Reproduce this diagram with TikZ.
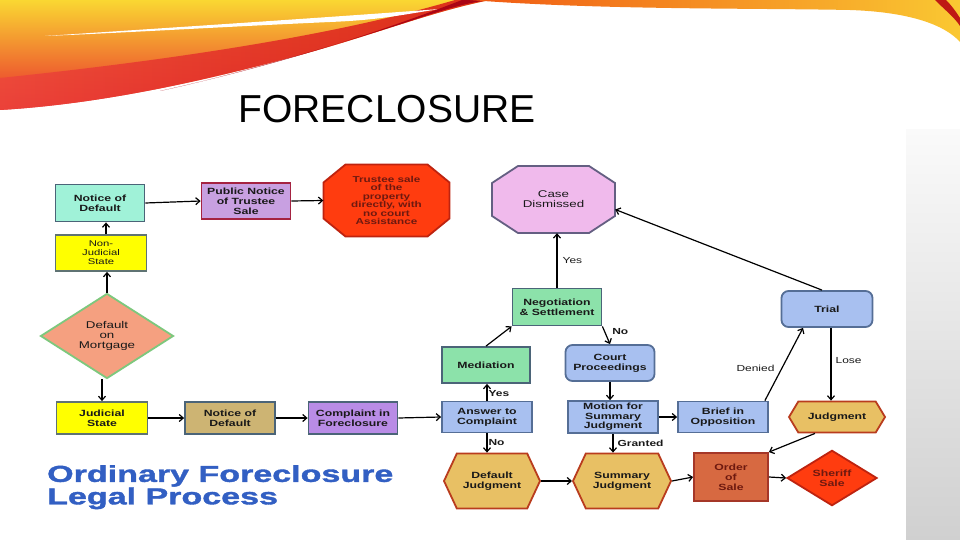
\documentclass[tikz,border=0pt]{standalone}
\usepackage{fontspec}
\setmainfont{Liberation Sans}
\newfontfamily\dfont[FakeStretch=1.36]{Liberation Sans}
\newfontfamily\logofont[FakeStretch=1.48,FakeBold=1.6]{Liberation Sans}
\usetikzlibrary{shapes.geometric,shapes.misc,shapes.symbols,arrows.meta}
\definecolor{aqua}{RGB}{160,242,216}
\definecolor{slate}{RGB}{75,100,120}
\definecolor{lav}{RGB}{200,160,225}
\definecolor{maroon}{RGB}{165,35,65}
\definecolor{redo}{RGB}{255,60,15}
\definecolor{redb}{RGB}{190,35,15}
\definecolor{yel}{RGB}{255,255,0}
\definecolor{ybord}{RGB}{95,115,115}
\definecolor{salmon}{RGB}{245,160,128}
\definecolor{greenb}{RGB}{125,200,125}
\definecolor{tanf}{RGB}{205,180,115}
\definecolor{purp}{RGB}{185,140,230}
\definecolor{lblue}{RGB}{168,192,240}
\definecolor{bblue}{RGB}{85,110,150}
\definecolor{mgreen}{RGB}{140,226,170}
\definecolor{pinkf}{RGB}{240,186,236}
\definecolor{pinkb}{RGB}{100,95,130}
\definecolor{gold}{RGB}{232,192,100}
\definecolor{goldb}{RGB}{185,60,30}
\definecolor{ordf}{RGB}{215,105,65}
\definecolor{ordb}{RGB}{165,55,40}
\definecolor{dtxt}{RGB}{25,25,25}
\definecolor{rtxt}{RGB}{110,25,15}
\definecolor{logoblue}{RGB}{50,95,195}
\definecolor{gtop}{RGB}{250,250,250}
\definecolor{gbot}{RGB}{208,208,208}
\definecolor{sw1}{RGB}{250,215,50}
\definecolor{sw2}{RGB}{245,120,25}
\definecolor{sw3}{RGB}{232,40,45}
\definecolor{sw4}{RGB}{236,70,60}
\definecolor{sw5}{RGB}{215,20,20}
\definecolor{sw6}{RGB}{170,5,20}
\definecolor{sw7}{RGB}{240,90,20}
\definecolor{sw8}{RGB}{250,200,50}
\definecolor{sw9}{RGB}{190,25,20}
\newcommand\nfb{\dfont\bfseries\fontsize{9}{10}\selectfont}
\newcommand\nfr{\dfont\fontsize{8.3}{9}\selectfont}
\newcommand\nfbig{\dfont\fontsize{9.8}{9.8}\selectfont}
\newcommand\lbr{\dfont\fontsize{8.8}{10}\selectfont}
\newcommand\lbb{\dfont\bfseries\fontsize{8.8}{10}\selectfont}
% octagon outline: style, cx, cy, half width, half height, chamfer x, chamfer y
\newcommand\drawocta[7]{\path[#1] (#2-#4+#6,#3-#5) -- (#2+#4-#6,#3-#5) -- (#2+#4,#3-#5+#7) -- (#2+#4,#3+#5-#7)
  -- (#2+#4-#6,#3+#5) -- (#2-#4+#6,#3+#5) -- (#2-#4,#3+#5-#7) -- (#2-#4,#3-#5+#7) -- cycle;}
\tikzset{
  base/.style={draw, line width=1.8pt, align=center, inner sep=1pt, text=dtxt, font=\nfb},
  rbox/.style={base, rectangle},
  rrbox/.style={base, rectangle, rounded corners=7pt},
  octline/.style={draw, line width=1.8pt},
  hexa/.style={base, signal, signal to=west and east, signal pointer angle=#1},
  dia/.style={base, diamond},
  txtonly/.style={align=center, inner sep=0, text=dtxt, font=\nfb},
  arr/.style={line width=1.2pt, -{Straight Barb[length=4pt,width=7pt,line width=1.2pt]}},
  lblr/.style={font=\lbr, inner sep=1pt, text=dtxt},
  lblb/.style={font=\lbb, inner sep=1pt, text=dtxt}
}
\begin{document}
\begin{tikzpicture}[x=1pt,y=-1pt]
\useasboundingbox (0,0) rectangle (960,540);
\fill[white] (0,0) rectangle (960,540);
% right gray strip
\shade[top color=gtop, bottom color=gbot] (906,130) rectangle (960,540);
% swoosh
\shade[top color=sw1, middle color=sw2, bottom color=sw3]
  (0,0) -- (0,110) .. controls (100,104) and (200,82) .. (300,55) .. controls (380,33) and (430,12) .. (490,0) -- cycle;
\shade[left color=sw4, right color=sw5, opacity=0.85]
  (0,110) .. controls (100,104) and (200,82) .. (300,55) .. controls (380,33) and (430,12) .. (490,0)
  -- (455,0) .. controls (380,22) and (250,52) .. (0,78) -- cycle;
\fill[white]
  (45,36) .. controls (150,29) and (320,18) .. (440,9) .. controls (400,15) and (380,20) .. (330,22)
  .. controls (220,27) and (120,33) .. (45,36) -- cycle;
\fill[sw6]
  (160,91) .. controls (240,74) and (360,38) .. (425,16) .. controls (450,8) and (470,2) .. (490,0)
  -- (462,0) .. controls (400,24) and (300,60) .. (160,91) -- cycle;
\shade[left color=sw7, right color=sw8]
  (470,0) .. controls (600,10) and (750,8) .. (850,10) .. controls (910,12) and (945,25) .. (960,42) -- (960,0) -- cycle;
\fill[sw9] (935,0) .. controls (945,10) and (955,18) .. (960,26) -- (960,18) .. controls (955,10) and (950,4) .. (946,0) -- cycle;

% title
\node[font=\fontsize{39}{40}\selectfont, text=black, inner sep=0] (title) at (387,109) {FORECLOSURE};
% logo
\node[anchor=north west, inner sep=0, align=left, text=logoblue,
      font=\logofont\bfseries\fontsize{23}{20}\selectfont] (logo) at (47,465) {Ordinary Foreclosure\\Legal Process};

% octagon outlines
\drawocta{octline, fill=redo, draw=redb}{386.5}{200.5}{63}{36}{22}{18}
\drawocta{octline, fill=pinkf, draw=pinkb}{553.5}{199.5}{61.5}{33.5}{26}{17}

% nodes
\node[rbox, fill=aqua, draw=slate, minimum width=89, minimum height=37] (nod1) at (100,203) {Notice of\\Default};
\node[rbox, fill=lav, draw=maroon, minimum width=89, minimum height=36] (pub) at (246,201) {Public Notice\\of Trustee\\Sale};
\node[txtonly, text=rtxt, minimum width=126, minimum height=72, font=\dfont\bfseries\fontsize{8.6}{8.4}\selectfont] (trustee) at (386.5,200.5)
      {Trustee sale\\of the\\property\\directly, with\\no court\\Assistance};
\node[rbox, fill=yel, draw=ybord, minimum width=91, minimum height=36, font=\nfr] (nj) at (101,253) {Non-\\Judicial\\State};
\node[dia, fill=salmon, draw=greenb, minimum width=133, minimum height=74, inner sep=0, font=\nfbig] (dom) at (107,336) {Default\\on\\Mortgage};
\node[rbox, fill=yel, draw=ybord, minimum width=91, minimum height=32] (jud) at (102,418) {Judicial\\State};
\node[rbox, fill=tanf, draw=slate, minimum width=90, minimum height=32] (nod2) at (230,418) {Notice of\\Default};
\node[rbox, fill=purp, draw=slate, minimum width=89, minimum height=32] (comp) at (353,418) {Complaint in\\Foreclosure};
\node[rbox, fill=lblue, draw=bblue, minimum width=90, minimum height=31] (ans) at (487,417) {Answer to\\Complaint};
\node[rbox, fill=mgreen, draw=slate, minimum width=88, minimum height=36] (med) at (486,365) {Mediation};
\node[rbox, fill=mgreen, draw=slate, minimum width=89, minimum height=37] (neg) at (557,307) {Negotiation\\\& Settlement};
\node[txtonly, minimum width=123, minimum height=67, font=\nfbig] (case) at (553.5,199.5) {Case\\Dismissed};
\node[rrbox, fill=lblue, draw=bblue, minimum width=89, minimum height=36] (court) at (610,363) {Court\\Proceedings};
\node[rbox, fill=lblue, draw=bblue, minimum width=90, minimum height=32, font=\dfont\bfseries\fontsize{9}{9.5}\selectfont] (motion) at (613,417) {Motion for\\Summary\\Judgment};
\node[rbox, fill=lblue, draw=bblue, minimum width=90, minimum height=31] (brief) at (723,417) {Brief in\\Opposition};
\node[rrbox, fill=lblue, draw=bblue, minimum width=91, minimum height=36] (trial) at (827,309) {Trial};
\node[hexa=118, fill=gold, draw=goldb, minimum width=96, minimum height=31] (judg) at (837,417) {Judgment};
\node[hexa=130, fill=gold, draw=goldb, minimum width=96, minimum height=55] (dj) at (492,481) {Default\\Judgment};
\node[hexa=130, fill=gold, draw=goldb, minimum width=98, minimum height=55] (sj) at (622,481) {Summary\\Judgment};
\node[rbox, fill=ordf, draw=ordb, text=rtxt, minimum width=74, minimum height=48] (order) at (731,477) {Order\\of\\Sale};
\node[dia, fill=redo, draw=redb, text=rtxt, minimum width=90, minimum height=43, inner sep=0] (sheriff) at (832,478) {Sheriff\\Sale};

% connectors
\draw[arr] ([xshift=5pt]nj.north) -- ([xshift=5pt]nj.north |- nod1.south);
\draw[arr] (dom.north) -- (dom.north |- nj.south);
\draw[arr] (jud.north |- dom.south) -- (jud.north);
\draw[arr] (nod1.east) -- (pub.west);
\draw[arr] (pub.east) -- (trustee.west);
\draw[arr] (jud.east) -- (nod2.west);
\draw[arr] (nod2.east) -- (comp.west);
\draw[arr] (comp.east) -- (ans.west);
\draw[arr] (ans.north) -- node[lblb, right, pos=0.45] {Yes} (ans.north |- med.south);
\draw[arr] (ans.south) -- node[lblb, right, pos=0.5] {No} (ans.south |- dj.north);
\draw[arr] (med.north) -- (neg.south west);
\draw[arr] (neg.north) -- node[lblr, right=4pt, pos=0.5] {Yes} (neg.north |- case.south);
\draw[arr] (neg.south east) -- node[lblb, right=6pt, pos=0.3] {No} (court.north);
\draw[arr] (court.south) -- (court.south |- motion.north);
\draw[arr] (motion.east) -- (brief.west);
\draw[arr] (motion.south) -- node[lblb, right=3pt, pos=0.5] {Granted} (motion.south |- sj.north);
\draw[arr] ([xshift=-4pt]brief.north east) -- node[lblr, left=6pt, pos=0.45] {Denied} ([xshift=-24pt]trial.south);
\draw[arr] ([xshift=4pt]trial.south) -- node[lblr, right=3pt, pos=0.45] {Lose} ([xshift=4pt]trial.south |- judg.north);
\draw[arr] ([xshift=-5pt]trial.north) -- ([yshift=-10pt]case.east);
\draw[arr] ([xshift=-22pt]judg.south) -- (order.north east);
\draw[arr] (dj.east) -- (sj.west);
\draw[arr] (sj.east) -- (order.west);
\draw[arr] (order.east) -- (sheriff.west);
\end{tikzpicture}
\end{document}
